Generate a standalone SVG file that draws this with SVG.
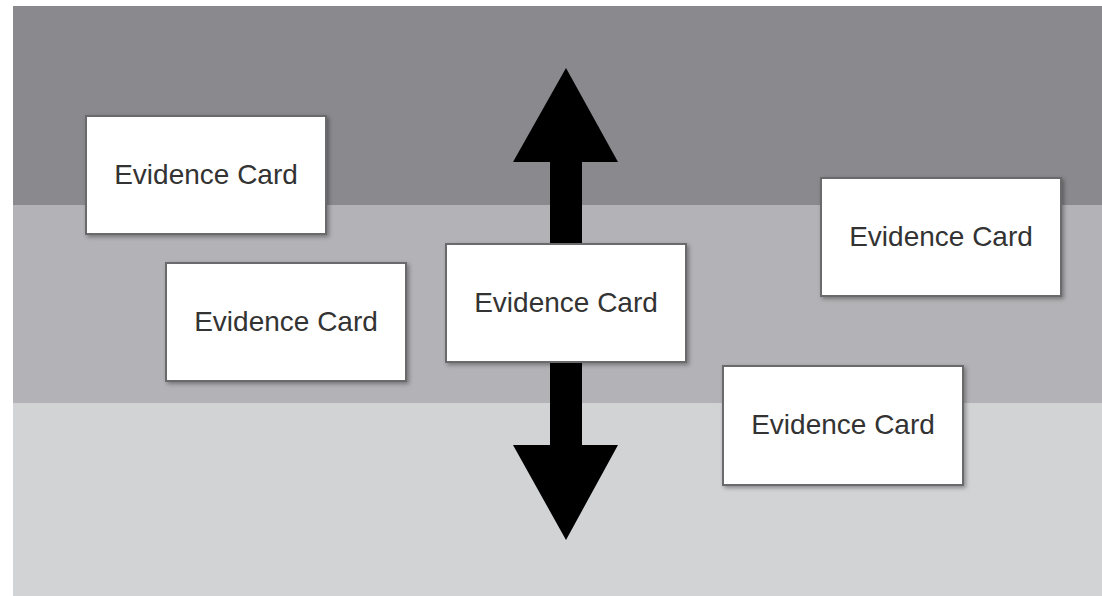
<svg xmlns="http://www.w3.org/2000/svg" width="1102" height="596" viewBox="0 0 1102 596">
<defs>
<filter id="sh" x="-10%" y="-10%" width="130%" height="130%">
<feDropShadow dx="2" dy="2" stdDeviation="2" flood-color="#000" flood-opacity="0.35"/>
</filter>
</defs>
<style>
.card rect{fill:#fff;stroke:#6a6a6c;stroke-width:2;filter:url(#sh)}
.card text{font-family:"Liberation Sans",Arial,sans-serif;font-size:28px;fill:#333;text-anchor:middle}
.arrow{fill:#000}
</style>
<rect x="0" y="0" width="1102" height="596" fill="#fff"/>
<g id="bands">
<rect x="13" y="6" width="1089" height="199" fill="#8a8a8e"/>
<rect x="13" y="205" width="1089" height="198" fill="#b3b3b7"/>
<rect x="13" y="403" width="1089" height="193" fill="#d2d3d5"/>
</g>
<g id="connectors">
<polygon class="arrow" points="566,68 618,162 582,162 582,445 618,445 566,540 513,445 550,445 550,162 513,162"/>
</g>
<g id="card1" class="card"><rect x="86" y="116" width="240" height="118"/><text x="206" y="184">Evidence Card</text></g>
<g id="card2" class="card"><rect x="166" y="263" width="240" height="118"/><text x="286" y="331">Evidence Card</text></g>
<g id="card3" class="card"><rect x="446" y="244" width="240" height="118"/><text x="566" y="312">Evidence Card</text></g>
<g id="card4" class="card"><rect x="821" y="178" width="240" height="118"/><text x="941" y="246">Evidence Card</text></g>
<g id="card5" class="card"><rect x="723" y="366" width="240" height="119"/><text x="843" y="434">Evidence Card</text></g>
</svg>
